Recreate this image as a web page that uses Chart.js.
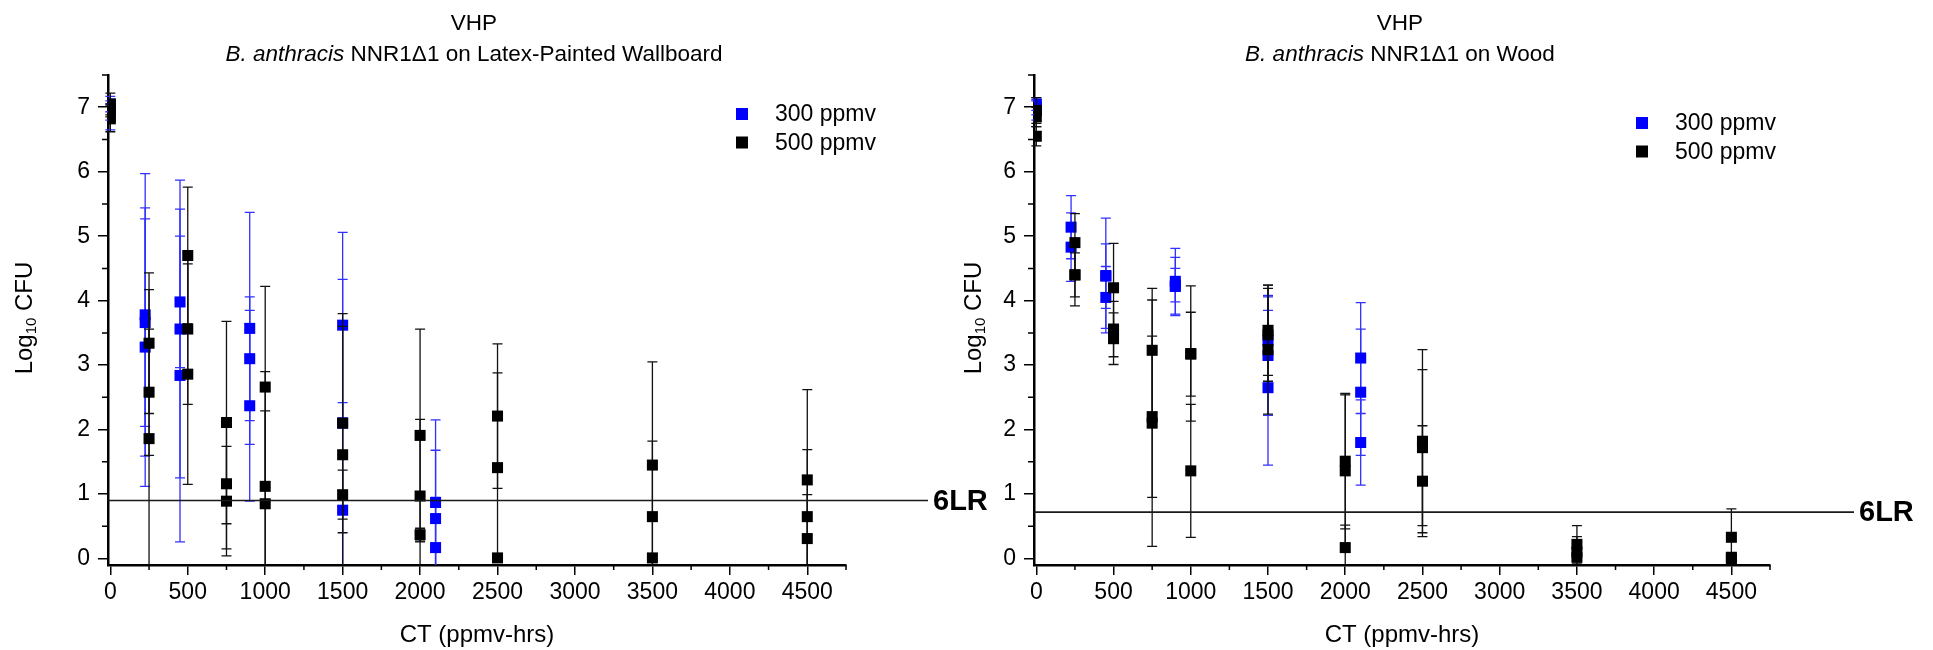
<!DOCTYPE html>
<html>
<head>
<meta charset="utf-8">
<script src="https://cdn.jsdelivr.net/npm/chart.js@4.4.1/dist/chart.umd.min.js"></script>
<style>
  body { margin:0; width:1933px; height:650px; background:#fff; position:relative; overflow:hidden; font-family:"Liberation Sans", Arial, sans-serif; }
  .box { position:absolute; top:0; height:650px; }
  #leftBox { left:0; width:1000px; }
  #rightBox { left:900px; width:1033px; }
  .title { position:absolute; top:7px; text-align:center; font-size:22.5px; line-height:31px; color:#000; white-space:nowrap; transform:translateX(-50%); }
</style>
</head>
<body>
<div class="box" id="leftBox"><canvas id="wallChart"></canvas></div>
<div class="box" id="rightBox"><canvas id="woodChart"></canvas></div>
<div class="title" style="left:474px">VHP<br><i>B. anthracis</i> NNR1&Delta;1 on Latex-Painted Wallboard</div>
<div class="title" style="left:1400px">VHP<br><i>B. anthracis</i> NNR1&Delta;1 on Wood</div>

<script>
// axis ticks
const xTicks = [0, 500, 1000, 1500, 2000, 2500, 3000, 3500, 4000, 4500];
const xMinorTicks = [250, 750, 1250, 1750, 2250, 2750, 3250, 3750, 4250, 4750];
const yTicks = [0, 1, 2, 3, 4, 5, 6, 7];
const yMinorTicks = [0.5, 1.5, 2.5, 3.5, 4.5, 5.5, 6.5, 7.5];

// Latex-painted wallboard, 300 ppmv
const wallX300   = [0, 0, 0, 225, 225, 225, 450, 450, 450, 900, 900, 900, 1500, 1500, 1500, 2100, 2100, 2100];
const wallY300   = [6.95, 7.05, 6.85, 3.78, 3.66, 3.28, 3.98, 3.56, 2.84, 3.57, 3.10, 2.37, 3.62, 2.10, 0.75, 0.87, 0.62, 0.17];
const wallErr300 = [0.15, 0.12, 0.20, 2.19, 1.61, 2.16, 1.02, 2.31, 2.58, 1.80, 0.96, 1.48, 1.44, 2.23, 1.67, 1.28, 1.06, 0.78];

// Latex-painted wallboard, 500 ppmv
const wallX500   = [0, 0, 0, 250, 250, 250, 500, 500, 500, 750, 750, 750, 1000, 1000, 1000, 1500, 1500, 1500, 2000, 2000, 2000, 2500, 2500, 2500, 3500, 3500, 3500, 4500, 4500, 4500];
const wallY500   = [7.05, 6.95, 6.82, 3.34, 2.58, 1.86, 4.70, 3.56, 2.86, 2.11, 1.16, 0.89, 2.66, 1.12, 0.85, 2.10, 1.61, 0.99, 1.91, 0.97, 0.37, 2.21, 1.41, 0.01, 1.45, 0.65, 0.01, 1.22, 0.65, 0.31];
const wallErr500 = [0.17, 0.10, 0.20, 1.09, 0.98, 2.31, 1.06, 1.17, 1.71, 1.57, 1.01, 0.85, 1.56, 1.78, 1.44, 1.70, 1.99, 0.38, 1.65, 1.19, 0.10, 1.12, 1.47, 0.05, 1.60, 1.17, 0.05, 1.40, 1.04, 0.68];

// Wood, 300 ppmv
const woodX300   = [0, 0, 0, 225, 225, 450, 450, 450, 900, 900, 900, 1500, 1500, 1500, 2100, 2100, 2100];
const woodY300   = [7.00, 6.95, 7.05, 5.14, 4.83, 4.39, 4.38, 4.05, 4.30, 4.22, 4.24, 3.38, 3.15, 2.65, 3.11, 2.58, 1.80];
const woodErr300 = [0.12, 0.15, 0.10, 0.49, 0.53, 0.89, 0.50, 0.48, 0.51, 0.45, 0.26, 0.68, 0.93, 1.20, 0.86, 0.98, 0.66];

// Wood, 500 ppmv
const woodX500   = [0, 0, 0, 250, 250, 250, 500, 500, 500, 750, 750, 750, 1000, 1000, 1000, 1500, 1500, 1500, 2000, 2000, 2000, 2500, 2500, 2500, 3500, 3500, 3500, 4500, 4500, 4500];
const woodY500   = [6.95, 6.85, 6.55, 4.90, 4.40, 4.40, 4.20, 3.56, 3.41, 3.23, 2.20, 2.10, 3.18, 3.17, 1.36, 3.54, 3.47, 3.24, 1.51, 1.36, 0.17, 1.82, 1.72, 1.20, 0.22, 0.10, 0.02, 0.33, 0.02, 0.00];
const woodErr500 = [0.20, 0.15, 0.15, 0.45, 0.34, 0.48, 0.69, 0.43, 0.40, 0.96, 1.25, 1.91, 1.05, 0.65, 1.03, 0.70, 0.72, 1.00, 1.05, 1.18, 0.35, 1.42, 1.21, 0.86, 0.29, 0.24, 0.05, 0.44, 0.05, 0.05];

// 6 log reduction levels
const wall6LR = 0.9;
const wood6LR = 0.72;

const FONT = '"Liberation Sans", Arial, sans-serif';
Chart.defaults.font.family = FONT;
Chart.defaults.color = '#000';

const toPoints = (xs, ys, es) => xs.map((x, i) => ({ x: x, y: ys[i], err: es[i] }));

// error bars under each dataset's markers
const errorBars = {
  id: 'errorBars',
  beforeDatasetDraw(chart, args) {
    const ds = chart.data.datasets[args.index];
    const ys = chart.scales.y;
    const a = chart.chartArea;
    const ctx = chart.ctx;
    ctx.save();
    ctx.beginPath();
    ctx.rect(a.left - 10, a.top, a.right - a.left + 20, a.bottom - a.top);
    ctx.clip();
    ctx.strokeStyle = ds.errColor;
    ctx.lineWidth = 1.3;
    args.meta.data.forEach((pt, i) => {
      const d = ds.data[i];
      const top = ys.getPixelForValue(d.y + d.err);
      const bot = ys.getPixelForValue(d.y - d.err);
      ctx.beginPath();
      ctx.moveTo(pt.x, top); ctx.lineTo(pt.x, bot);
      ctx.moveTo(pt.x - 5, top); ctx.lineTo(pt.x + 5, top);
      ctx.moveTo(pt.x - 5, bot); ctx.lineTo(pt.x + 5, bot);
      ctx.stroke();
    });
    ctx.restore();
  }
};

// minor ticks, 6LR line, legend, y title
const decor = {
  id: 'decor',
  afterDraw(chart, args, opts) {
    const ctx = chart.ctx;
    const a = chart.chartArea;
    const xs = chart.scales.x, ys = chart.scales.y;
    ctx.save();
    ctx.strokeStyle = '#000';
    ctx.lineWidth = 1.5;
    ctx.beginPath();
    xMinorTicks.forEach(v => { const px = xs.getPixelForValue(v); ctx.moveTo(px, a.bottom); ctx.lineTo(px, a.bottom + 5); });
    yMinorTicks.forEach(v => { const py = ys.getPixelForValue(v); ctx.moveTo(a.left, py); ctx.lineTo(a.left - 6, py); });
    ctx.stroke();

    // 6LR line
    const ly = ys.getPixelForValue(opts.lr);
    ctx.strokeStyle = '#1a1a1a';
    ctx.lineWidth = 1.6;
    ctx.beginPath();
    ctx.moveTo(a.left, ly); ctx.lineTo(opts.lrEnd, ly);
    ctx.stroke();
    ctx.fillStyle = '#000';
    ctx.font = 'bold 29px ' + FONT;
    ctx.textBaseline = 'middle';
    ctx.textAlign = 'left';
    ctx.fillText('6LR', opts.lrEnd + 5, ly + 1);

    // legend
    ctx.font = '23px ' + FONT;
    chart.data.datasets.forEach((ds, row) => {
      const cx = a.right + opts.legDx;
      const cy = a.top + opts.legDy + row * 28.5;
      ctx.fillStyle = ds.backgroundColor;
      ctx.fillRect(cx - 6, cy - 6, 12, 12);
      ctx.fillStyle = '#000';
      ctx.fillText(ds.label, cx + 33, cy + 1);
    });

    // y axis title: Log10 CFU
    ctx.translate(opts.yTitleX, 318);
    ctx.rotate(-Math.PI / 2);
    const big = '24px ' + FONT, small = '15px ' + FONT;
    ctx.font = big; const w1 = ctx.measureText('Log').width; const w3 = ctx.measureText(' CFU').width;
    ctx.font = small; const w2 = ctx.measureText('10').width;
    let x0 = -(w1 + w2 + w3) / 2;
    ctx.textAlign = 'left';
    ctx.font = big; ctx.fillText('Log', x0, 0);
    ctx.font = small; ctx.fillText('10', x0 + w1, 7);
    ctx.font = big; ctx.fillText(' CFU', x0 + w1 + w2, 0);
    ctx.restore();
  }
};

function makeChart(id, pts300, pts500, cfg) {
  const axisGrid = { drawOnChartArea: false, drawTicks: true, tickLength: 10, color: '#000', lineWidth: 1.5 };
  const axisBorder = { color: '#000', width: 2.5 };
  return new Chart(document.getElementById(id), {
    type: 'scatter',
    data: {
      datasets: [
        {
          label: '300 ppmv',
          data: pts300,
          backgroundColor: '#0000ff',
          borderColor: '#0000ff',
          errColor: '#3030ff',
          pointStyle: 'rect',
          pointRadius: 7.8,
          pointBorderWidth: 0,
          order: 2
        },
        {
          label: '500 ppmv',
          data: pts500,
          backgroundColor: '#000000',
          borderColor: '#000000',
          errColor: '#111111',
          pointStyle: 'rect',
          pointRadius: 7.8,
          pointBorderWidth: 0,
          order: 1
        }
      ]
    },
    options: {
      responsive: true,
      maintainAspectRatio: false,
      animation: false,
      events: [],
      layout: { padding: { left: 0, top: 75, right: cfg.padRight, bottom: 0 } },
      scales: {
        x: {
          type: 'linear',
          min: -15,
          max: 4750,
          afterBuildTicks: s => { s.ticks = xTicks.map(v => ({ value: v })); },
          afterFit: s => { s.height = 85; },
          grid: axisGrid,
          border: axisBorder,
          ticks: { color: '#000', font: { size: 23 }, padding: 4, maxRotation: 0, autoSkip: false, callback: v => String(v) },
          title: { display: true, text: 'CT (ppmv-hrs)', color: '#000', font: { size: 24 }, padding: 0 }
        },
        y: {
          type: 'linear',
          min: -0.1,
          max: 7.5,
          afterBuildTicks: s => { s.ticks = yTicks.map(v => ({ value: v })); },
          afterFit: s => { s.width = cfg.yWidth; },
          grid: axisGrid,
          border: axisBorder,
          ticks: { color: '#000', font: { size: 23 }, padding: 8, callback: v => String(v) }
        }
      },
      plugins: {
        legend: { display: false },
        tooltip: { enabled: false },
        decor: cfg.decor
      }
    },
    plugins: [errorBars, decor]
  });
}

makeChart('wallChart',
  toPoints(wallX300, wallY300, wallErr300),
  toPoints(wallX500, wallY500, wallErr500),
  { padRight: 154, yWidth: 108, decor: { lr: wall6LR, lrEnd: 928, legDx: -104, legDy: 39, yTitleX: 25 } });

makeChart('woodChart',
  toPoints(woodX300, woodY300, woodErr300),
  toPoints(woodX500, woodY500, woodErr500),
  { padRight: 163, yWidth: 134, decor: { lr: wood6LR, lrEnd: 954, legDx: -128, legDy: 48, yTitleX: 74 } });
</script>
</body>
</html>
